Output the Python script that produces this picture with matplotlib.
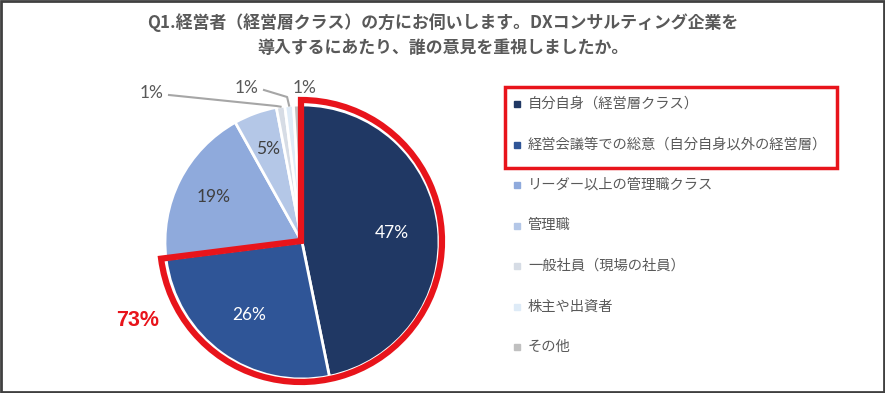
import numpy as np
import matplotlib.pyplot as plt
from matplotlib.patches import Wedge, Rectangle

plt.rcParams['font.family'] = ['Noto Sans CJK JP', 'DejaVu Sans']

# データ
categories = ['自分自身（経営層クラス）', '経営会議等での総意（自分自身以外の経営層）',
              'リーダー以上の管理職クラス', '管理職', '一般社員（現場の社員）',
              '株主や出資者', 'その他']
values = [46.8, 26.2, 18.9, 5.1, 1.0, 1.0, 1.0]
colors = ['#203864', '#2F5597', '#8FAADC', '#B4C7E7', '#D6DCE5', '#DEEBF7', '#C0C0C0']
title = 'Q1.経営者（経営層クラス）の方にお伺いします。DXコンサルティング企業を\n導入するにあたり、誰の意見を重視しましたか。'
highlight = '73%'

W, H = 885, 393
fig = plt.figure(figsize=(W / 100, H / 100), dpi=100)
ax = fig.add_axes([0, 0, 1, 1])

cx, cy, r = 302, H - 242, 137
wedges, _ = ax.pie(values, colors=colors, startangle=90, counterclock=False,
                   center=(cx, cy), radius=r, frame=True,
                   wedgeprops=dict(edgecolor='white', linewidth=2))
ax.set_xlim(0, W)
ax.set_ylim(0, H)
ax.set_aspect('equal')
ax.axis('off')

grey = '#595959'
lab_font = dict(family='Lato', fontsize=12.5)
inside_color = ['white', 'white', '#404040', '#404040']
outside_text = [(152, H - 93), (247, H - 88), (305, H - 88)]
for i, (w, v) in enumerate(zip(wedges, values)):
    mid = np.deg2rad((w.theta1 + w.theta2) / 2)
    lab = f'{round(v)}%'
    if i < 4:
        rr = r * (0.66 if i < 2 else 0.72)
        ax.text(cx + rr * np.cos(mid), cy + rr * np.sin(mid), lab,
                ha='center', va='center', color=inside_color[i], **lab_font)
    else:
        tx, ty = outside_text[i - 4]
        ex, ey = cx + r * np.cos(mid), cy + r * np.sin(mid)
        ax.text(tx, ty, lab, ha='center', va='center', color=grey, **lab_font)
        if i < 6:
            ax.plot([tx + 17, ex - 2 * (6 - i), ex], [ty - 2, ty - 5 - 4 * (6 - i), ey],
                    color='#A6A6A6', lw=1.5)

# 73% highlight outline
t_end = wedges[1].theta1
ax.add_patch(Wedge((cx - 1, cy + 1), r + 4, t_end, 90, fill=False,
                   edgecolor='#E8141B', linewidth=4.5, joinstyle='miter'))
ax.text(138, H - 320, highlight, ha='center', va='center', fontsize=15.5,
        fontweight='bold', color='#E8141B', family='Liberation Sans')

# Title
ax.text(W / 2, H - 35, title, ha='center', va='center', fontsize=12.2,
        fontweight='bold', color=grey, linespacing=1.5)

# Legend
for i, (c, lab) in enumerate(zip(colors, categories)):
    y = H - (104 + i * 40.5)
    ax.add_patch(Rectangle((514, y - 3), 6, 6, color=c))
    ax.text(528, y, lab, ha='left', va='center', fontsize=10.3, color=grey)
ax.add_patch(Rectangle((505, H - 168), 332, 81, fill=False,
                       edgecolor='#E8141B', linewidth=2.5))

# frame
ax.add_patch(Rectangle((1, 1), W - 2, H - 2, fill=False, edgecolor='#404040',
                       linewidth=2))

fig.savefig('out.png', dpi=100)
